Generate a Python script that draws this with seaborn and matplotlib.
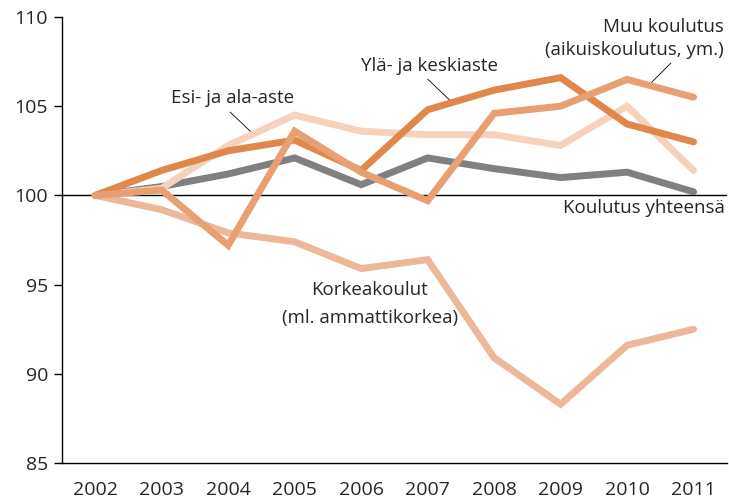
import matplotlib
matplotlib.use("Agg")
import matplotlib.pyplot as plt
import seaborn as sns
import pandas as pd
from matplotlib.ticker import MultipleLocator, FixedLocator

years = [2002, 2003, 2004, 2005, 2006, 2007, 2008, 2009, 2010, 2011]
koulutus_yhteensa = [100.0, 100.5, 101.2, 102.1, 100.6, 102.1, 101.5, 101.0, 101.3, 100.2]
yla_ja_keskiaste = [100.0, 101.4, 102.5, 103.1, 101.4, 104.8, 105.9, 106.6, 104.0, 103.0]
muu_koulutus = [100.0, 100.3, 97.2, 103.6, 101.3, 99.7, 104.6, 105.0, 106.5, 105.5]
esi_ja_ala_aste = [100.0, 100.4, 102.8, 104.5, 103.6, 103.4, 103.4, 102.8, 105.0, 101.4]
korkeakoulut = [100.0, 99.2, 97.9, 97.4, 95.9, 96.4, 90.9, 88.3, 91.6, 92.5]

series = {
    "Korkeakoulut": korkeakoulut,
    "Koulutus yhteensä": koulutus_yhteensa,
    "Esi- ja ala-aste": esi_ja_ala_aste,
    "Ylä- ja keskiaste": yla_ja_keskiaste,
    "Muu koulutus": muu_koulutus,
}
palette = {
    "Korkeakoulut": "#EDB899",
    "Koulutus yhteensä": "#808080",
    "Esi- ja ala-aste": "#F5D2BC",
    "Muu koulutus": "#E8A072",
    "Ylä- ja keskiaste": "#E0874C",
}

rows = []
for name, vals in series.items():
    for y, v in zip(years, vals):
        rows.append({"year": y, "value": v, "series": name})
df = pd.DataFrame(rows)

sns.set_style("white")
plt.rcParams["font.family"] = ["Open Sans", "DejaVu Sans"]

fig = plt.figure(figsize=(7.29, 4.99), dpi=100)
ax = fig.add_axes([0.085, 0.072, 0.912, 0.894])

ax.axhline(100, color="black", lw=1.0, zorder=1)
sns.lineplot(data=df, x="year", y="value", hue="series", palette=palette,
             hue_order=list(series.keys()), lw=5.0, legend=False, ax=ax,
             zorder=3)
for ln in ax.lines[1:]:
    ln.set_solid_capstyle("round")
    ln.set_solid_joinstyle("miter")

ax.set_xlim(2001.5, 2011.5)
ax.set_ylim(85, 110)
ax.yaxis.set_major_locator(MultipleLocator(5))
ax.xaxis.set_major_locator(FixedLocator(years))
ax.xaxis.set_minor_locator(FixedLocator([y + 0.5 for y in years]))
ax.set_xlabel("")
ax.set_ylabel("")
for s in ["top", "right"]:
    ax.spines[s].set_visible(False)
ax.spines["left"].set_color("black")
ax.spines["bottom"].set_color("black")
ax.spines["left"].set_linewidth(1.0)
ax.spines["bottom"].set_linewidth(1.0)
ax.tick_params(axis="x", which="major", length=0, labelsize=14, pad=13)
ax.tick_params(axis="x", which="minor", length=6, color="#999999", width=1, direction="in")
ax.tick_params(axis="y", which="major", length=6, color="black", width=1, direction="out",
               labelsize=14, left=True, pad=4)

fs = 13.5
ax.text(2004.06, 105.45, "Esi- ja ala-aste", ha="center", va="center", fontsize=fs)
ax.plot([2004.03, 2004.36], [104.67, 103.5], color="black", lw=0.6)
ax.text(2007.03, 107.25, "Ylä- ja keskiaste", ha="center", va="center", fontsize=fs)
ax.plot([2007.0, 2007.33], [106.52, 105.35], color="black", lw=0.6)
ax.text(2011.46, 109.44, "Muu koulutus", ha="right", va="center", fontsize=fs)
ax.text(2011.46, 108.15, "(aikuiskoulutus, ym.)", ha="right", va="center", fontsize=fs)
ax.plot([2010.66, 2010.36], [107.42, 106.3], color="black", lw=0.6)
ax.text(2010.26, 99.29, "Koulutus yhteensä", ha="center", va="center", fontsize=fs)
ax.text(2006.13, 94.7, "Korkeakoulut", ha="center", va="center", fontsize=fs)
ax.text(2006.13, 93.13, "(ml. ammattikorkea)", ha="center", va="center", fontsize=fs)

fig.savefig("out.png", dpi=100)
